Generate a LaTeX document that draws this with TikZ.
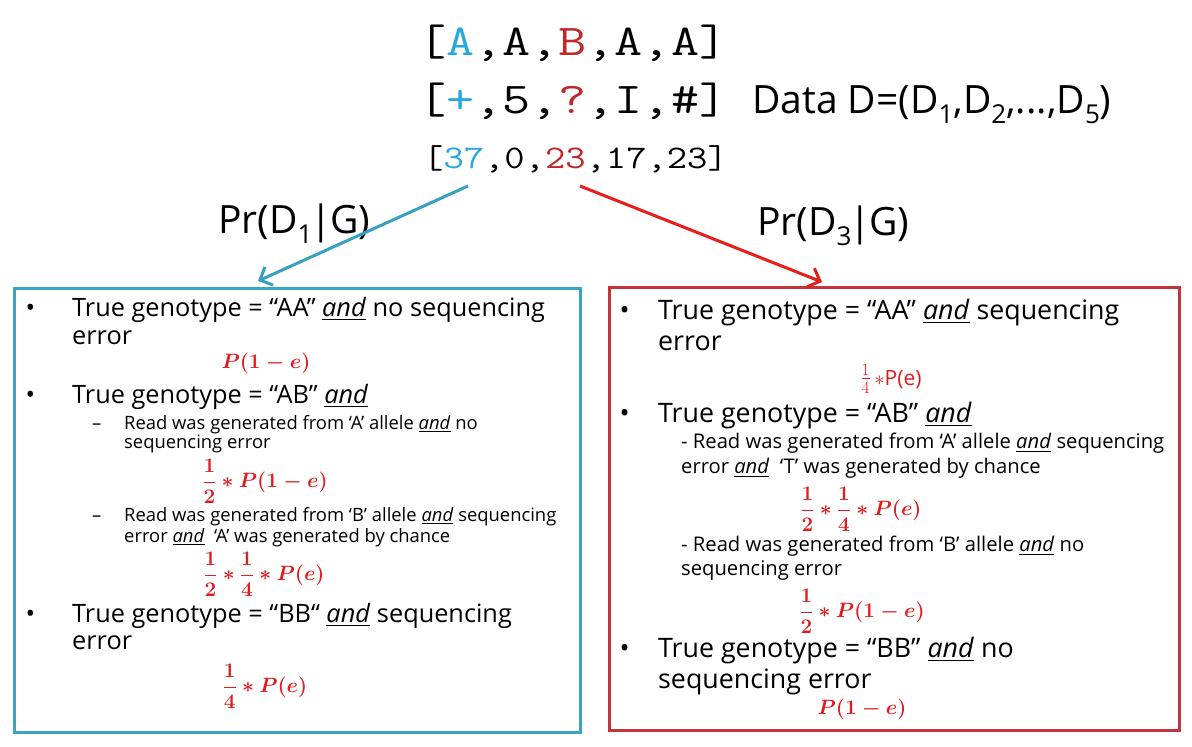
\documentclass[tikz,border=0pt]{standalone}
\usepackage{amsmath}
\usepackage{graphicx}
\usepackage{fontspec}
\setmainfont{Open Sans}
\usetikzlibrary{arrows.meta}
\definecolor{cyanA}{RGB}{40,168,224}
\definecolor{redB}{RGB}{192,40,42}
\definecolor{bluebox}{RGB}{58,163,196}
\definecolor{redbox}{RGB}{196,52,58}
\definecolor{redarrow}{RGB}{232,30,30}
\definecolor{bluearrow}{RGB}{58,160,192}
\definecolor{mathred}{RGB}{226,28,30}
\newcommand{\und}{\underline{\textit{and}}}
\newcommand{\dsub}[1]{\raisebox{-0.28em}{\fontsize{26}{26}\selectfont #1}}
\newcommand{\monow}[2]{\scalebox{#1}[1]{\ttfamily #2}}
\newcommand{\condbar}{\kern-1.5pt|\kern-2pt}
\begin{document}
\begin{tikzpicture}[x=1pt,y=-1pt,
  every node/.style={inner sep=0pt},
  monobig/.style={anchor=base west, font=\fontsize{44}{44}\selectfont},
  monosmall/.style={anchor=base west, font=\fontsize{33}{33}\selectfont},
  label/.style={anchor=base west, font=\fontsize{39}{40}\selectfont},
  ltxt/.style={anchor=base west, font=\fontsize{25.3}{28}\selectfont},
  lsub/.style={anchor=base west, font=\fontsize{18.4}{20}\selectfont},
  rtxt/.style={anchor=base west, font=\fontsize{26.8}{30}\selectfont},
  rsub/.style={anchor=base west, font=\fontsize{20.2}{22}\selectfont},
  lmath/.style={anchor=center, text=mathred, font=\fontsize{22.5}{26}\selectfont\boldmath},
  smallmath/.style={anchor=center, text=mathred, font=\fontsize{21}{25}\selectfont},
  box/.style={draw, line width=3pt, anchor=north west},
  conn/.style={line width=3pt, -{Straight Barb[length=10pt,width=20pt,line width=3pt]}}
]
\useasboundingbox (0,0) rectangle (1192,747);
\fill[white] (0,0) rectangle (1192,747);

% top data
\node[monobig] (row1) at (418,55) {\monow{1.24}{[{\color{cyanA}A},A,{\color{redB}B},A,A]}};
\node[monobig] (row2) at (418,113) {\monow{1.24}{[{\color{cyanA}+},5,{\color{redB}?},I,\#]}};
\node[monosmall] (row3) at (423,168) {\monow{1.195}{[{\color{cyanA}37},0,{\color{redB}23},17,23]}};
\node[label] (data) at (752,113) {Data D=(D\dsub{1},D\dsub{2},...,D\dsub{5})};

\node[label] (pr1) at (218,233) {Pr(D\dsub{1}\condbar G)};
\node[label] (pr3) at (757,235) {Pr(D\dsub{3}\condbar G)};

% boxes
\node[box, draw=bluebox, minimum width=566pt, minimum height=444pt] (lbox) at (13,287) {};
\node[box, draw=redbox, minimum width=570pt, minimum height=443pt] (rbox) at (608,286) {};

% connectors
\coordinate (s1) at (468,186);
\coordinate (e1) at (258,281);
\coordinate (s2) at (580,186);
\coordinate (e2) at (822,282);
\draw[conn, bluearrow] (s1) -- (e1);
\draw[conn, redarrow] (s2) -- (e2);

% left box
\node[ltxt] (lb1) at (25.5,316) {•};
\node[ltxt] (l1) at (72,316) {True genotype = “AA” \und{} no sequencing};
\node[ltxt] (l1b) at (72,344) {error};
\node[lmath] (lm1) at (266,363) {$P(1-e)$};
\node[ltxt] (lb2) at (25.5,403) {•};
\node[ltxt] (l2) at (72,403) {True genotype = “AB” \und};
\node[lsub] (ld1) at (92,429) {–};
\node[lsub] (l2a) at (124,429) {Read was generated from ‘A’ allele \und{} no};
\node[lsub] (l2b) at (124,448) {sequencing error};
\node[lmath] (lm2) at (265,481) {$\dfrac{1}{2}*P(1-e)$};
\node[lsub] (ld2) at (92,521) {–};
\node[lsub] (l2c) at (124,521) {Read was generated from ‘B’ allele \und{} sequencing};
\node[lsub] (l2d) at (124,542) {error \und{}\ \ ‘A’ was generated by chance};
\node[lmath] (lm3) at (264,574) {$\dfrac{1}{2}*\dfrac{1}{4}*P(e)$};
\node[ltxt] (lb3) at (25.5,622) {•};
\node[ltxt] (l3) at (72,622) {True genotype = “BB“ \und{} sequencing};
\node[ltxt] (l3b) at (72,649) {error};
\node[lmath] (lm4) at (265,686) {$\dfrac{1}{4}*P(e)$};

% right box
\node[rtxt] (rb1) at (619.5,319) {•};
\node[rtxt] (r1) at (658,319) {True genotype = “AA” \und{} sequencing};
\node[rtxt] (r1b) at (658,350) {error};
\node[smallmath] (rm1) at (891,379) {{\fontsize{27}{27}\selectfont$\frac{1}{4}$}\,$*$P(e)};
\node[rtxt] (rb2) at (619.5,422) {•};
\node[rtxt] (r2) at (658,422) {True genotype = “AB” \und};
\node[rsub] (r2a) at (681,448) {- Read was generated from ‘A’ allele \und{} sequencing};
\node[rsub] (r2b) at (681,473) {error \und{}\ \ ‘T’ was generated by chance};
\node[lmath] (rm2) at (861,509) {$\dfrac{1}{2}*\dfrac{1}{4}*P(e)$};
\node[rsub] (r2c) at (681,551) {- Read was generated from ‘B’ allele \und{} no};
\node[rsub] (r2d) at (681,575) {sequencing error};
\node[lmath] (rm3) at (862,611) {$\dfrac{1}{2}*P(1-e)$};
\node[rtxt] (rb3) at (619.5,657) {•};
\node[rtxt] (r3) at (658,657) {True genotype = “BB” \und{} no};
\node[rtxt] (r3b) at (658,688) {sequencing error};
\node[lmath] (rm4) at (862,709) {$P(1-e)$};
\end{tikzpicture}
\end{document}
